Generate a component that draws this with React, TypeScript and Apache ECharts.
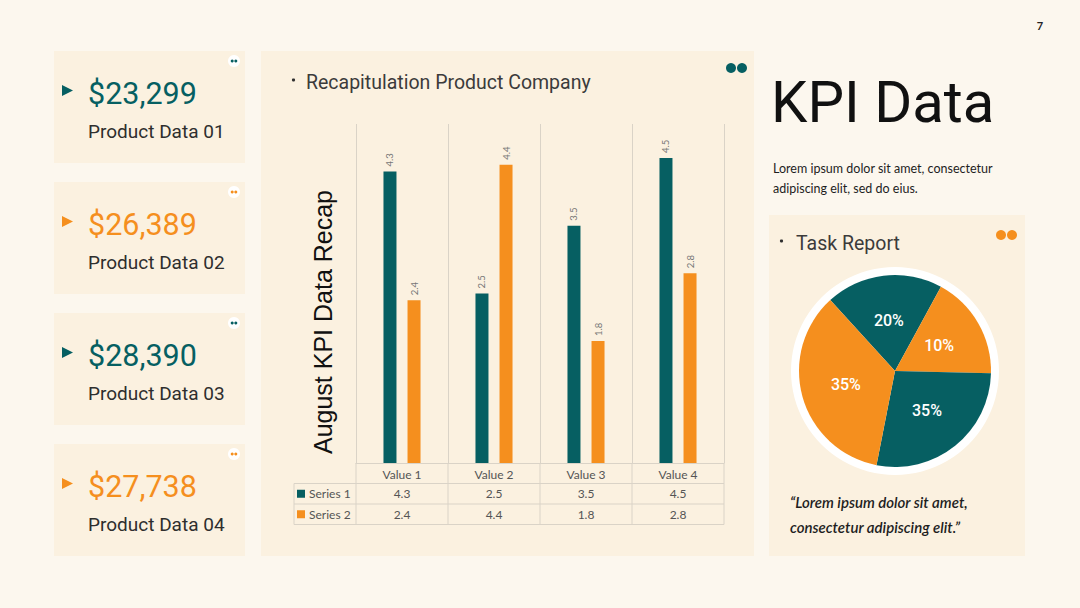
import React, { useEffect, useRef } from "react";
import * as echarts from "echarts";

const categories = ["Value 1", "Value 2", "Value 3", "Value 4"];
const seriesNames = ["Series 1", "Series 2"];
const series1 = [4.3, 2.5, 3.5, 4.5];
const series2 = [2.4, 4.4, 1.8, 2.8];
const kpiValues = ["$23,299", "$26,389", "$28,390", "$27,738"];
const kpiLabels = ["Product Data 01", "Product Data 02", "Product Data 03", "Product Data 04"];
const pieLabels = ["20%", "10%", "35%", "35%"];
const pieShares = [19.7, 17.4, 27.7, 35.1];

const TEAL = "#065F62";
const ORANGE = "#F58F1E";
const BG = "#FCF7EE";
const PANEL = "#FBF1E0";
const LINE = "#DAD3C7";
const HEAD = "Roboto, 'Noto Sans', sans-serif";
const BODY = "Lato, 'Liberation Sans', sans-serif";

const GRID = { left: 356, top: 124, width: 368, height: 339 };

export default function App() {
  const ref = useRef<HTMLDivElement>(null);

  useEffect(() => {
    if (!ref.current) return;
    const chart = echarts.init(ref.current, undefined, { renderer: "svg" });

    const g: any[] = [];
    g.push({ type: "rect", shape: { x: 0, y: 0, width: 1080, height: 608 }, style: { fill: BG }, z: -10 });

    const cardYs = [51, 182, 313, 444];
    cardYs.forEach((y, i) => {
      const c = i % 2 === 0 ? TEAL : ORANGE;
      g.push({ type: "rect", shape: { x: 54, y, width: 191, height: 112 }, style: { fill: PANEL }, z: -5 });
      g.push({ type: "polygon", shape: { points: [[62, y + 34], [73, y + 39.5], [62, y + 45]] }, style: { fill: c } });
      g.push({ type: "text", x: 88, y: y + 42, style: { text: kpiValues[i], fill: c, font: `400 30.5px ${HEAD}`, verticalAlign: "middle" } });
      g.push({ type: "text", x: 88, y: y + 80, style: { text: kpiLabels[i], fill: "#2E2E2E", font: `400 19px ${HEAD}`, verticalAlign: "middle" } });
      g.push({ type: "circle", shape: { cx: 234, cy: y + 10, r: 6 }, style: { fill: "#FFFFFF" } });
      g.push({ type: "circle", shape: { cx: 232.2, cy: y + 10, r: 1.5 }, style: { fill: c } });
      g.push({ type: "circle", shape: { cx: 235.8, cy: y + 10, r: 1.5 }, style: { fill: c } });
    });

    // middle panel
    g.push({ type: "rect", shape: { x: 261, y: 51, width: 493, height: 505 }, style: { fill: PANEL }, z: -5 });
    g.push({ type: "circle", shape: { cx: 293.5, cy: 80, r: 1.6 }, style: { fill: "#2E2E2E" } });
    g.push({ type: "text", x: 306, y: 82, style: { text: "Recapitulation Product Company", fill: "#3B3B3B", font: `400 19.5px ${HEAD}`, verticalAlign: "middle" } });
    g.push({ type: "circle", shape: { cx: 731, cy: 68, r: 5 }, style: { fill: TEAL } });
    g.push({ type: "circle", shape: { cx: 742, cy: 68, r: 5 }, style: { fill: TEAL } });
    g.push({
      type: "text", x: 323, y: 322, rotation: Math.PI / 2,
      style: { text: "August KPI Data Recap", fill: "#111", font: `400 25px 'Liberation Sans', Arial, sans-serif`, align: "center", verticalAlign: "middle" },
    });

    // data table
    const cw = GRID.width / categories.length;
    const bottom = GRID.top + GRID.height;
    const rowH = 20.5;
    const tableLeft = 294;
    const right = GRID.left + GRID.width;
    for (let i = 0; i <= categories.length; i++) {
      const x = GRID.left + i * cw;
      g.push({ type: "line", shape: { x1: x, y1: bottom, x2: x, y2: bottom + rowH * 3 }, style: { stroke: LINE, lineWidth: 1 } });
    }
    g.push({ type: "line", shape: { x1: tableLeft, y1: bottom + rowH, x2: tableLeft, y2: bottom + rowH * 3 }, style: { stroke: LINE, lineWidth: 1 } });
    for (let r = 1; r <= 3; r++) {
      const y = bottom + rowH * r;
      g.push({ type: "line", shape: { x1: tableLeft, y1: y, x2: right, y2: y }, style: { stroke: LINE, lineWidth: 1 } });
    }
    const rows = [series1, series2];
    rows.forEach((vals, r) => {
      const cy = bottom + rowH * (r + 1) + rowH / 2;
      const c = r === 0 ? TEAL : ORANGE;
      g.push({ type: "rect", shape: { x: 297, y: cy - 4, width: 8, height: 8 }, style: { fill: c } });
      g.push({ type: "text", x: 309, y: cy, style: { text: seriesNames[r], fill: "#555", font: `400 12px ${BODY}`, verticalAlign: "middle" } });
      vals.forEach((v, i) => {
        g.push({ type: "text", x: GRID.left + cw * (i + 0.5), y: cy, style: { text: String(v), fill: "#555", font: `400 12px ${BODY}`, align: "center", verticalAlign: "middle" } });
      });
    });

    // right side
    g.push({ type: "text", x: 1040, y: 25, style: { text: "7", fill: "#222", font: `700 11px ${BODY}`, align: "center", verticalAlign: "middle" } });
    g.push({ type: "text", x: 771, y: 102, style: { text: "KPI Data", fill: "#111", font: `400 58px ${HEAD}`, verticalAlign: "middle" } });
    g.push({ type: "text", x: 773, y: 168, style: { text: "Lorem ipsum dolor sit amet, consectetur", fill: "#1E1E1E", font: `400 12.5px ${BODY}`, verticalAlign: "middle" } });
    g.push({ type: "text", x: 773, y: 188, style: { text: "adipiscing elit, sed do eius.", fill: "#1E1E1E", font: `400 12.5px ${BODY}`, verticalAlign: "middle" } });
    g.push({ type: "rect", shape: { x: 769, y: 215, width: 256, height: 341 }, style: { fill: PANEL }, z: -5 });
    g.push({ type: "circle", shape: { cx: 781.5, cy: 241, r: 1.6 }, style: { fill: "#2E2E2E" } });
    g.push({ type: "text", x: 796, y: 243, style: { text: "Task Report", fill: "#3B3B3B", font: `400 19.5px ${HEAD}`, verticalAlign: "middle" } });
    g.push({ type: "circle", shape: { cx: 1001, cy: 235, r: 5 }, style: { fill: ORANGE } });
    g.push({ type: "circle", shape: { cx: 1012, cy: 235, r: 5 }, style: { fill: ORANGE } });
    g.push({ type: "text", x: 790, y: 502, style: { text: "\u201CLorem ipsum dolor sit amet,", fill: "#1E1E1E", font: `italic 600 15px ${BODY}`, verticalAlign: "middle" } });
    g.push({ type: "text", x: 790, y: 527, style: { text: "consectetur adipiscing elit.\u201D", fill: "#1E1E1E", font: `italic 600 15px ${BODY}`, verticalAlign: "middle" } });

    const pieColors = [TEAL, ORANGE, TEAL, ORANGE];

    const barLabel = {
      show: true, position: "top", rotate: 90, align: "left", verticalAlign: "middle", distance: 5,
      color: "#777", fontSize: 9.5, fontFamily: BODY,
    };

    chart.setOption({
      animation: false,
      backgroundColor: BG,
      graphic: { elements: g },
      grid: { left: GRID.left, top: GRID.top, width: GRID.width, height: GRID.height, containLabel: false },
      xAxis: {
        type: "category", data: categories,
        axisLine: { show: true, lineStyle: { color: LINE } },
        axisTick: { show: false },
        splitLine: { show: true, lineStyle: { color: LINE } },
        axisLabel: { color: "#555", fontSize: 12, fontFamily: BODY, margin: 5 },
      },
      yAxis: {
        type: "value", min: 0, max: 5, interval: 1,
        axisLine: { show: false }, axisTick: { show: false }, axisLabel: { show: false }, splitLine: { show: false },
      },
      series: [
        { type: "bar", name: seriesNames[0], data: series1, barWidth: 13, barGap: "85%", itemStyle: { color: TEAL }, label: barLabel },
        { type: "bar", name: seriesNames[1], data: series2, barWidth: 13, barGap: "85%", itemStyle: { color: ORANGE }, label: barLabel },
        {
          type: "pie", center: [895, 371], radius: [0, 104], silent: true, z: 1,
          label: { show: false }, labelLine: { show: false },
          data: [{ value: 1, itemStyle: { color: "#FFFFFF" } }],
        },
        {
          type: "pie", center: [895, 371], radius: [0, 96], startAngle: 132.4, clockwise: true, z: 3,
          label: {
            show: true, position: "inside", color: "#FFFFFF", fontSize: 16, fontWeight: 500, fontFamily: HEAD,
            formatter: (p: any) => pieLabels[p.dataIndex],
          },
          labelLine: { show: false },
          itemStyle: { borderWidth: 0 },
          data: pieShares.map((v, i) => ({ value: v, name: pieLabels[i] + " " + i, itemStyle: { color: pieColors[i] } })),
        },
      ],
    });

    return () => chart.dispose();
  }, []);

  return <div ref={ref} style={{ position: "fixed", left: 0, top: 0, width: 1080, height: 608 }} />;
}
